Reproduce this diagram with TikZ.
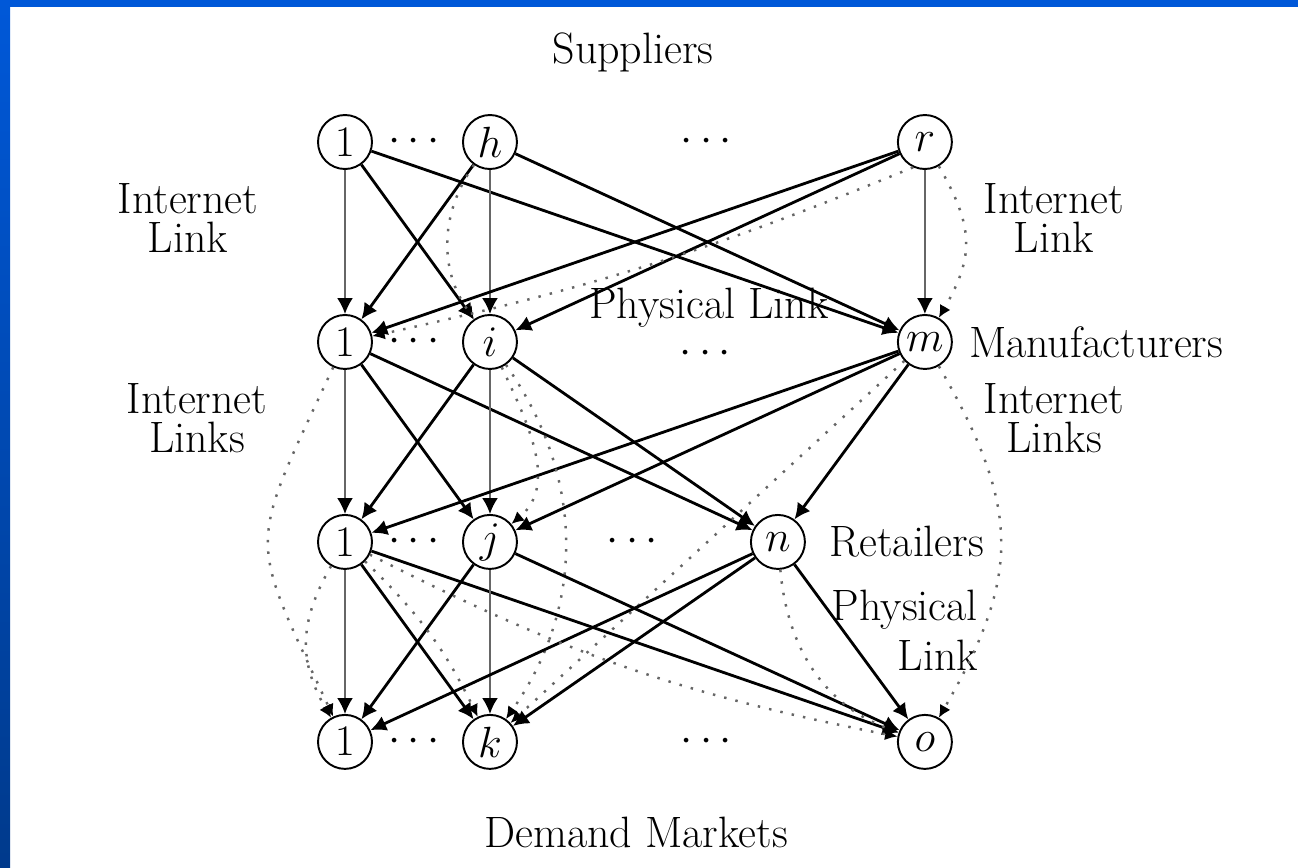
\documentclass[tikz,border=0pt]{standalone}
\usepackage{amsmath}
\usepackage{xcolor}
\usepackage{tikz}
\usetikzlibrary{positioning}
\usetikzlibrary{arrows.meta}

\definecolor{slideblue}{HTML}{0058D8}
\definecolor{slidedark}{HTML}{003A8C}
\definecolor{linkgray}{HTML}{666666}

\begin{document}
\begin{tikzpicture}[x=0.02cm, y=-0.02cm,
        every node/.style={font=\fontsize{25}{22}\selectfont},
        unit/.style={circle, draw, line width=1.1pt, minimum size=1.08cm, inner sep=0pt, on grid},
        phys/.style={line width=1.6pt, -{Latex[length=9pt, width=9pt]}},
        vert/.style={draw=linkgray, line width=1.1pt, -{Latex[length=9pt, width=9pt, color=black]}},
        net/.style={draw=linkgray, line width=1.4pt, dash pattern=on 1.4pt off 5.2pt, -{Latex[length=7pt, width=7pt, color=black]}}]
        \useasboundingbox (0,0) rectangle (1298,867);
        \fill[slideblue] (0,0) rectangle (1298,7);
        \shade[top color=slideblue, bottom color=slidedark] (0,0) rectangle (10,867);

        \node[unit] (s1) at (345,142) {$1$};
        \node[unit, right = 2.9cm of s1] (sh) {$h$};
        \node[unit, right = 8.7cm of sh] (sr) {$r$};
        \node[unit, below = 4.0cm of s1] (m1) {$1$};
        \node[unit, below = 4.0cm of sh] (mi) {$i$};
        \node[unit, below = 4.0cm of sr] (mm) {$m$};
        \node[unit, below = 4.0cm of m1] (r1) {$1$};
        \node[unit, below = 4.0cm of mi] (rj) {$j$};
        \node[unit, right = 5.76cm of rj] (rn) {$n$};
        \node[unit, below = 4.0cm of r1] (d1) {$1$};
        \node[unit, below = 4.0cm of rj] (dk) {$k$};
        \node[unit, below = 8.0cm of mm] (do) {$o$};

        \node[on grid, right = 1.45cm of s1] (sdots) {$\cdots$};
        \node[on grid, right = 4.4cm of sh] (sdots2) {$\cdots$};
        \node[on grid, right = 1.45cm of m1] (mdots) {$\cdots$};
        \node[inner sep=1pt] (mdots2) at (709,354) {$\cdots$};
        \node[on grid, right = 1.45cm of r1] (rdots) {$\cdots$};
        \node[on grid, right = 2.92cm of rj] (rdots2) {$\cdots$};
        \node[on grid, right = 1.45cm of d1] (ddots) {$\cdots$};
        \node[on grid, right = 4.4cm of dk] (ddots2) {$\cdots$};

        \node (suppliers) at (633,52) {Suppliers};
        \node (markets) at (636,832) {Demand Markets};
        \node[align=center] (netlinkA) at (188,218) {Internet\\Link};
        \node[align=center] (netlinkB) at (197,418) {Internet\\Links};
        \node[align=center] (netlinkC) at (1054,218) {Internet\\Link};
        \node[align=center] (netlinkD) at (1054,418) {Internet\\Links};
        \node[inner sep=1pt] (physlinkA) at (709,308) {Physical Link};
        \node[right = 0.2cm of mm] (manu) {Manufacturers};
        \node[right = 0.35cm of rn] (retail) {Retailers};
        \node[align=right, anchor=east] (physlinkB) at (984,630) {Physical\\[5pt]Link};

        \draw[vert] (s1) -- (m1);
        \draw[phys] (s1) -- (mi);
        \draw[phys] (s1) -- (mm);
        \draw[phys] (sh) -- (m1);
        \draw[vert] (sh) -- (mi);
        \draw[phys] (sh) -- (mm);
        \draw[phys] (sr) -- (m1);
        \draw[phys] (sr) -- (mi);
        \draw[vert] (sr) -- (mm);
        \draw[net] (sh) to[out=235, in=125] (mi);
        \draw[net] (sr) to[out=-60, in=60, looseness=1.2] (mm);
        \draw[net] (sr.-115) to[bend left=5] (m1);

        \draw[vert] (m1) -- (r1);
        \draw[phys] (m1) -- (rj);
        \draw[phys] (m1) -- (rn);
        \draw[phys] (mi) -- (r1);
        \draw[vert] (mi) -- (rj);
        \draw[phys] (mi) -- (rn);
        \draw[phys] (mm) -- (r1);
        \draw[phys] (mm) -- (rj);
        \draw[phys] (mm) -- (rn);
        \draw[net] (mi) to[out=-65, in=40] (rj);

        \draw[net] (m1) to[out=-115, in=115, looseness=1.5] (d1);
        \draw[net] (mi) to[out=-55, in=55] (dk);
        \draw[net] (mm) to[out=-60, in=60, looseness=1.2] (do);
        \draw[net] (mm) -- (dk);

        \draw[vert] (r1) -- (d1);
        \draw[phys] (r1) -- (dk);
        \draw[phys] (r1) -- (do);
        \draw[phys] (rj) -- (d1);
        \draw[vert] (rj) -- (dk);
        \draw[phys] (rj) -- (do);
        \draw[phys] (rn) -- (d1);
        \draw[phys] (rn) -- (dk);
        \draw[phys] (rn) -- (do);
        \draw[net] (r1) to[out=-120, in=120, looseness=1.1] (d1);
        \draw[net] (r1) to[bend left=10] (dk);
        \draw[net] (r1) to[bend right=8] (do);
        \draw[net] (rn) to[out=-85, in=160] (do);
    \end{tikzpicture}
\end{document}
